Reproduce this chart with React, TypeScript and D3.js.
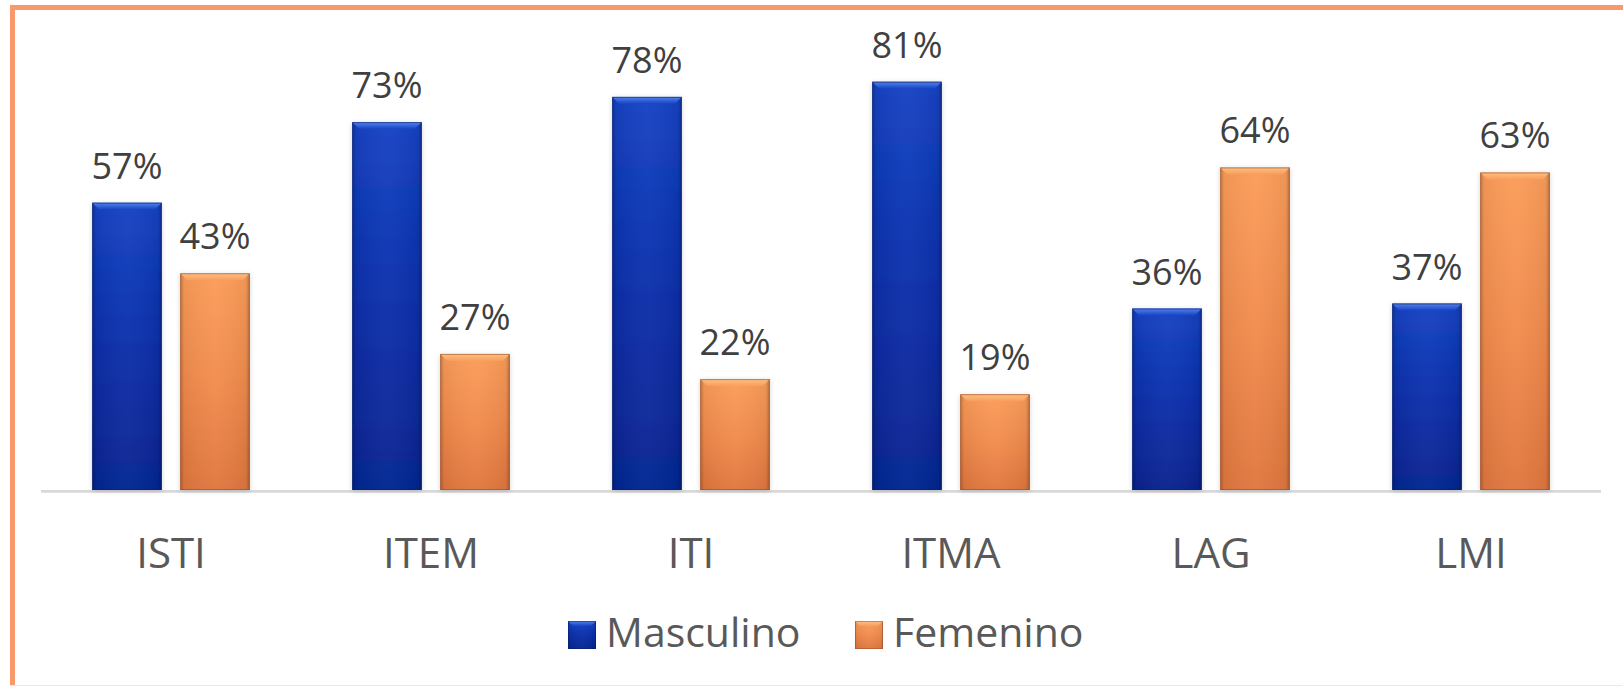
import React from "react";
import * as d3 from "d3";

const categories = ["ISTI", "ITEM", "ITI", "ITMA", "LAG", "LMI"];
const seriesNames = ["Masculino", "Femenino"];
const masculino = [0.57, 0.73, 0.78, 0.81, 0.36, 0.37];
const femenino = [0.43, 0.27, 0.22, 0.19, 0.64, 0.63];
const seriesValues = [masculino, femenino];

const W = 1623;
const H = 686;

const palette = {
  Masculino: { top: "#1543c4", mid: "#0a2fab", bottom: "#062590", bevel: "#5b8af2", edge: "#051c70", stroke: "#0b2068" },
  Femenino: { top: "#fb9d5a", mid: "#f28c4e", bottom: "#e0773f", bevel: "#fdc58c", edge: "#b85a28", stroke: "#9c4f25" },
};

export default function App() {
  const axisLeft = 41;
  const axisRight = 1601;
  const baseY = 490;

  const x0 = d3.scaleBand<string>().domain(categories).range([axisLeft, axisRight]).paddingInner(0.394).paddingOuter(0.197);
  const x1 = d3.scaleBand<string>().domain(seriesNames).range([0, x0.bandwidth()]).paddingInner(0.21).paddingOuter(0);
  const y = d3.scaleLinear().domain([0, 1]).range([baseY, baseY - 504]);
  const fmt = d3.format(".0%");

  const bars: any[] = [];
  categories.forEach((c, ci) => {
    seriesNames.forEach((s, si) => {
      const v = seriesValues[si][ci];
      const bx = (x0(c) as number) + (x1(s) as number);
      const bw = x1.bandwidth();
      const top = y(v);
      bars.push({ c, s, v, bx, bw, top });
    });
  });

  const bev = 7;

  return (
    <div style={{ position: "fixed", left: 0, top: 0 }}>
      <svg width={W} height={H} style={{ display: "block", background: "#ffffff" }}>
        <defs>
          {seriesNames.map((s) => {
            const p = (palette as any)[s];
            return (
              <React.Fragment key={s}>
                <linearGradient id={`g-${s}`} x1="0" y1="0" x2="0" y2="1">
                  <stop offset="0" stopColor={p.top} />
                  <stop offset="0.5" stopColor={p.mid} />
                  <stop offset="1" stopColor={p.bottom} />
                </linearGradient>
                <linearGradient id={`h-${s}`} x1="0" y1="0" x2="1" y2="0">
                  <stop offset="0" stopColor="#000" stopOpacity="0.22" />
                  <stop offset="0.06" stopColor="#000" stopOpacity="0.05" />
                  <stop offset="0.5" stopColor="#fff" stopOpacity="0.03" />
                  <stop offset="0.94" stopColor="#000" stopOpacity="0.05" />
                  <stop offset="1" stopColor="#000" stopOpacity="0.25" />
                </linearGradient>
                <linearGradient id={`b-${s}`} x1="0" y1="0" x2="0" y2="1">
                  <stop offset="0" stopColor={p.bevel} />
                  <stop offset="1" stopColor={p.top} />
                </linearGradient>
              </React.Fragment>
            );
          })}
          <filter id="shadow" x="-20%" y="-5%" width="140%" height="110%">
            <feDropShadow dx="0" dy="1" stdDeviation="2.5" floodColor="#000" floodOpacity="0.18" />
          </filter>
        </defs>

        {/* frame */}
        <line x1={12.5} y1={5} x2={12.5} y2={H} stroke="#f9986a" strokeWidth={5} />
        <line x1={10} y1={7.5} x2={W} y2={7.5} stroke="#f9986a" strokeWidth={5} />
        <line x1={10} y1={685.5} x2={W} y2={685.5} stroke="#fde3d3" strokeWidth={1} />

        {/* axis line */}
        <line x1={axisLeft} x2={axisRight} y1={baseY + 1.3} y2={baseY + 1.3} stroke="#d9d9d9" strokeWidth={2.7} />

        {/* bars */}
        {bars.map((b, i) => {
          const p = (palette as any)[b.s];
          const h = baseY - b.top;
          return (
            <g key={i}>
              <rect x={b.bx} y={b.top} width={b.bw} height={h} fill={`url(#g-${b.s})`} filter="url(#shadow)" />
              <rect x={b.bx} y={b.top} width={b.bw} height={h} fill={`url(#h-${b.s})`} />
              <path
                d={`M${b.bx},${b.top}H${b.bx + b.bw}L${b.bx + b.bw - bev},${b.top + bev}H${b.bx + bev}Z`}
                fill={`url(#b-${b.s})`}
                opacity={0.9}
              />
              <rect x={b.bx + 0.5} y={b.top + 0.5} width={b.bw - 1} height={h - 1} fill="none" stroke={p.stroke} strokeOpacity={0.6} strokeWidth={1} />
            </g>
          );
        })}

        {/* value labels */}
        {bars.map((b, i) => (
          <text
            key={`l${i}`}
            x={b.bx + b.bw / 2}
            y={b.top - 24}
            textAnchor="middle"
            fontFamily="'Open Sans', sans-serif"
            fontSize={36}
            fill="#404040"
          >
            {fmt(b.v)}
          </text>
        ))}

        {/* category labels */}
        {categories.map((c) => (
          <text
            key={c}
            x={(x0(c) as number) + x0.bandwidth() / 2}
            y={568}
            textAnchor="middle"
            fontFamily="'Open Sans', sans-serif"
            fontSize={42}
            fill="#595959"
          >
            {c}
          </text>
        ))}

        {/* legend */}
        {seriesNames.map((s, i) => {
          const p = (palette as any)[s];
          const lx = i === 0 ? 568 : 855;
          return (
            <g key={s} transform={`translate(${lx},621)`}>
              <rect x={0} y={0} width={28} height={28} fill={`url(#g-${s})`} />
              <rect x={0} y={0} width={28} height={28} fill={`url(#h-${s})`} />
              <path d={`M0,0H28L23,5H5Z`} fill={`url(#b-${s})`} opacity={0.9} />
              <rect x={0.5} y={0.5} width={27} height={27} fill="none" stroke={p.stroke} strokeOpacity={0.5} />
              <text x={38} y={26} fontFamily="'Open Sans', sans-serif" fontSize={41} fill="#595959">
                {s}
              </text>
            </g>
          );
        })}
      </svg>
    </div>
  );
}
